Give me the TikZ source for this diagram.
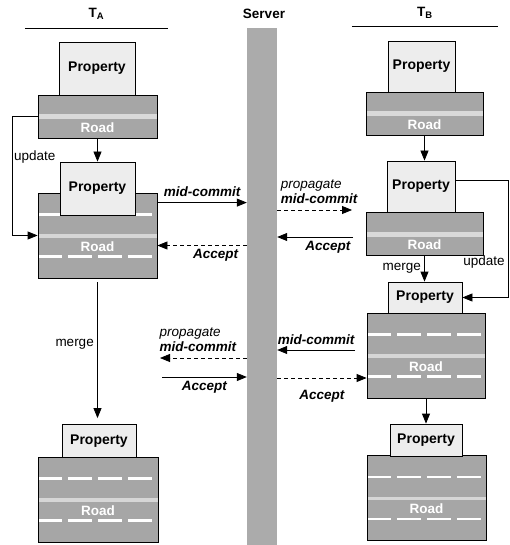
\documentclass[tikz,border=0pt]{standalone}
\usepackage{fontspec}
\setmainfont{Liberation Sans}
\usetikzlibrary{positioning,arrows.meta}

\begin{document}
\begin{tikzpicture}[
    x=1pt, y=-1pt,
    font=\fontsize{13.5}{15}\selectfont,
    hdr/.style={inner sep=0pt, font=\fontsize{13.5}{15}\selectfont\bfseries},
    prop/.style={rectangle, draw, fill=gray!14, line width=0.8pt, inner sep=0pt,
                 font=\fontsize{14}{16}\selectfont\bfseries},
    roadtxt/.style={text=white, font=\fontsize{13.5}{15}\selectfont\bfseries},
    road/.style={rectangle, draw, fill=gray!70, line width=0.8pt, inner sep=0pt,
                 minimum height=43pt,
                 path picture={\fill[gray!30] ([yshift=2pt]path picture bounding box.west)
                     rectangle ([yshift=-3pt]path picture bounding box.east);},
                 label={[roadtxt, yshift=-11pt]center:Road}},
    roadtall/.style={rectangle, draw, fill=gray!70, line width=0.8pt, inner sep=0pt,
                 minimum height=85pt,
                 path picture={
                     \draw[white, line width=2.5pt, dash pattern=on 24pt off 6pt]
                         ([yshift=21pt]path picture bounding box.west) -- ([yshift=21pt]path picture bounding box.east);
                     \fill[gray!32] ([yshift=1.5pt]path picture bounding box.west)
                         rectangle ([yshift=-2pt]path picture bounding box.east);
                     \draw[white, line width=2.5pt, dash pattern=on 24pt off 6pt]
                         ([yshift=-21pt]path picture bounding box.west) -- ([yshift=-21pt]path picture bounding box.east);},
                 label={[roadtxt, yshift=-11pt]center:Road}},
    arrow/.style={-{Triangle[length=10pt,width=8pt]}, line width=0.8pt},
    dasharrow/.style={arrow, dash pattern=on 4pt off 3pt},
    lbl/.style={font=\fontsize{13.5}{15}\selectfont\bfseries\itshape}
]
\useasboundingbox (0,0) rectangle (510,545);

% headers
\node[hdr, minimum width=143pt, minimum height=28pt] (tA) at (96.5,14) {T\textsubscript{A}};
\draw[line width=0.8pt] (tA.south west) -- (tA.south east);
\node[hdr] (srvlbl) at (264,14) {Server};
\node[hdr, minimum width=146pt, minimum height=26pt] (tB) at (425,13) {T\textsubscript{B}};
\draw[line width=0.8pt] (tB.south west) -- (tB.south east);

% server
\node[fill=gray!66, minimum width=30pt, minimum height=517pt, inner sep=0pt] (srv) at (262,286.5) {};

% T_A
\node[road, minimum width=119pt] (roadA1) at (97.5,116.5) {};
\node[prop, minimum width=76pt, minimum height=53pt] (propA1) at (97,68.5) {Property};
\node[roadtall, minimum width=119pt] (roadA2) at (97.5,235.5) {};
\node[prop, minimum width=75pt, minimum height=53pt] (propA2) at (97.5,188.5) {Property};
\node[roadtall, minimum width=120pt] (roadA3) at (98,499.5) {};
\node[prop, minimum width=74pt, minimum height=33pt] (propA3) at (99,441) {Property};

% T_B
\node[road, minimum width=117pt] (roadB1) at (424.5,113.5) {};
\node[prop, minimum width=67pt, minimum height=51pt] (propB1) at (421.5,66.5) {Property};
\node[road, minimum width=117pt] (roadB2) at (424.5,233.5) {};
\node[prop, minimum width=68pt, minimum height=51pt] (propB2) at (421,186.5) {Property};
\node[roadtall, minimum width=118pt] (roadB3) at (426,355.5) {};
\node[prop, minimum width=74pt, minimum height=31pt] (propB3) at (425,297.5) {Property};
\node[roadtall, minimum width=119pt] (roadB4) at (426.5,498) {};
\node[prop, minimum width=72pt, minimum height=32pt] (propB4) at (426,440) {Property};

% versions
\draw[arrow] (roadA1.south) -- (propA2.north);
\draw[arrow] (roadA1.west) -- ++(-25,0) |- node[right, pos=0.17, inner sep=1pt] {update} (roadA2.west);
\draw[arrow, shorten <=4pt, shorten >=6pt] (roadA2.south) -- (roadA2.south |- propA3.north)
    node[left, pos=0.45] {merge};
\draw[arrow] (roadB1.south) -- (roadB1.south |- propB2.north);
\draw[arrow] ([yshift=6pt]propB2.east) -- ++(53,0) |- node[left, pos=0.35] {update} (propB3.east);
\draw[arrow] (roadB2.south) -- (roadB2.south |- propB3.north) node[left, midway] {merge};
\draw[arrow] (roadB3.south) -- (roadB3.south |- propB4.north);

% messages, left
\coordinate (mcA) at ([yshift=-10pt]roadA2.north east);
\draw[arrow] (mcA) -- (mcA -| srv.west) node[lbl, above, midway, yshift=2pt] {mid-commit};
\coordinate (acA) at ([yshift=-10pt]roadA2.east);
\draw[dasharrow] (acA -| srv.west) -- (acA) node[lbl, below, pos=0.35] {Accept};
\coordinate (pmA) at (160,358);
\draw[dasharrow] (pmA -| srv.west) -- (pmA)
    node[pos=1, above right, align=left, xshift=-4pt, yshift=3pt] {\textit{propagate}\\\textbf{\textit{mid-commit}}};
\coordinate (acA2) at (162,377);
\draw[arrow] (acA2) -- (acA2 -| srv.west) node[lbl, below, midway] {Accept};

% messages, right
\coordinate (pmB) at (352,210);
\draw[dasharrow] (pmB -| srv.east) -- (pmB)
    node[pos=0, above right, align=left, yshift=3pt] {\textit{propagate}\\\textbf{\textit{mid-commit}}};
\coordinate (acB) at (353,237);
\draw[arrow] (acB) -- (acB -| srv.east) node[lbl, below, pos=0.33] {Accept};
\coordinate (mcB) at (355,350);
\draw[arrow] (mcB) -- (mcB -| srv.east) node[lbl, above, midway, yshift=2pt] {mid-commit};
\coordinate (acB2) at ([yshift=-22.5pt]roadB3.west);
\draw[dasharrow] (acB2 -| srv.east) -- (acB2) node[lbl, below=8pt, midway] {Accept};
\end{tikzpicture}
\end{document}
